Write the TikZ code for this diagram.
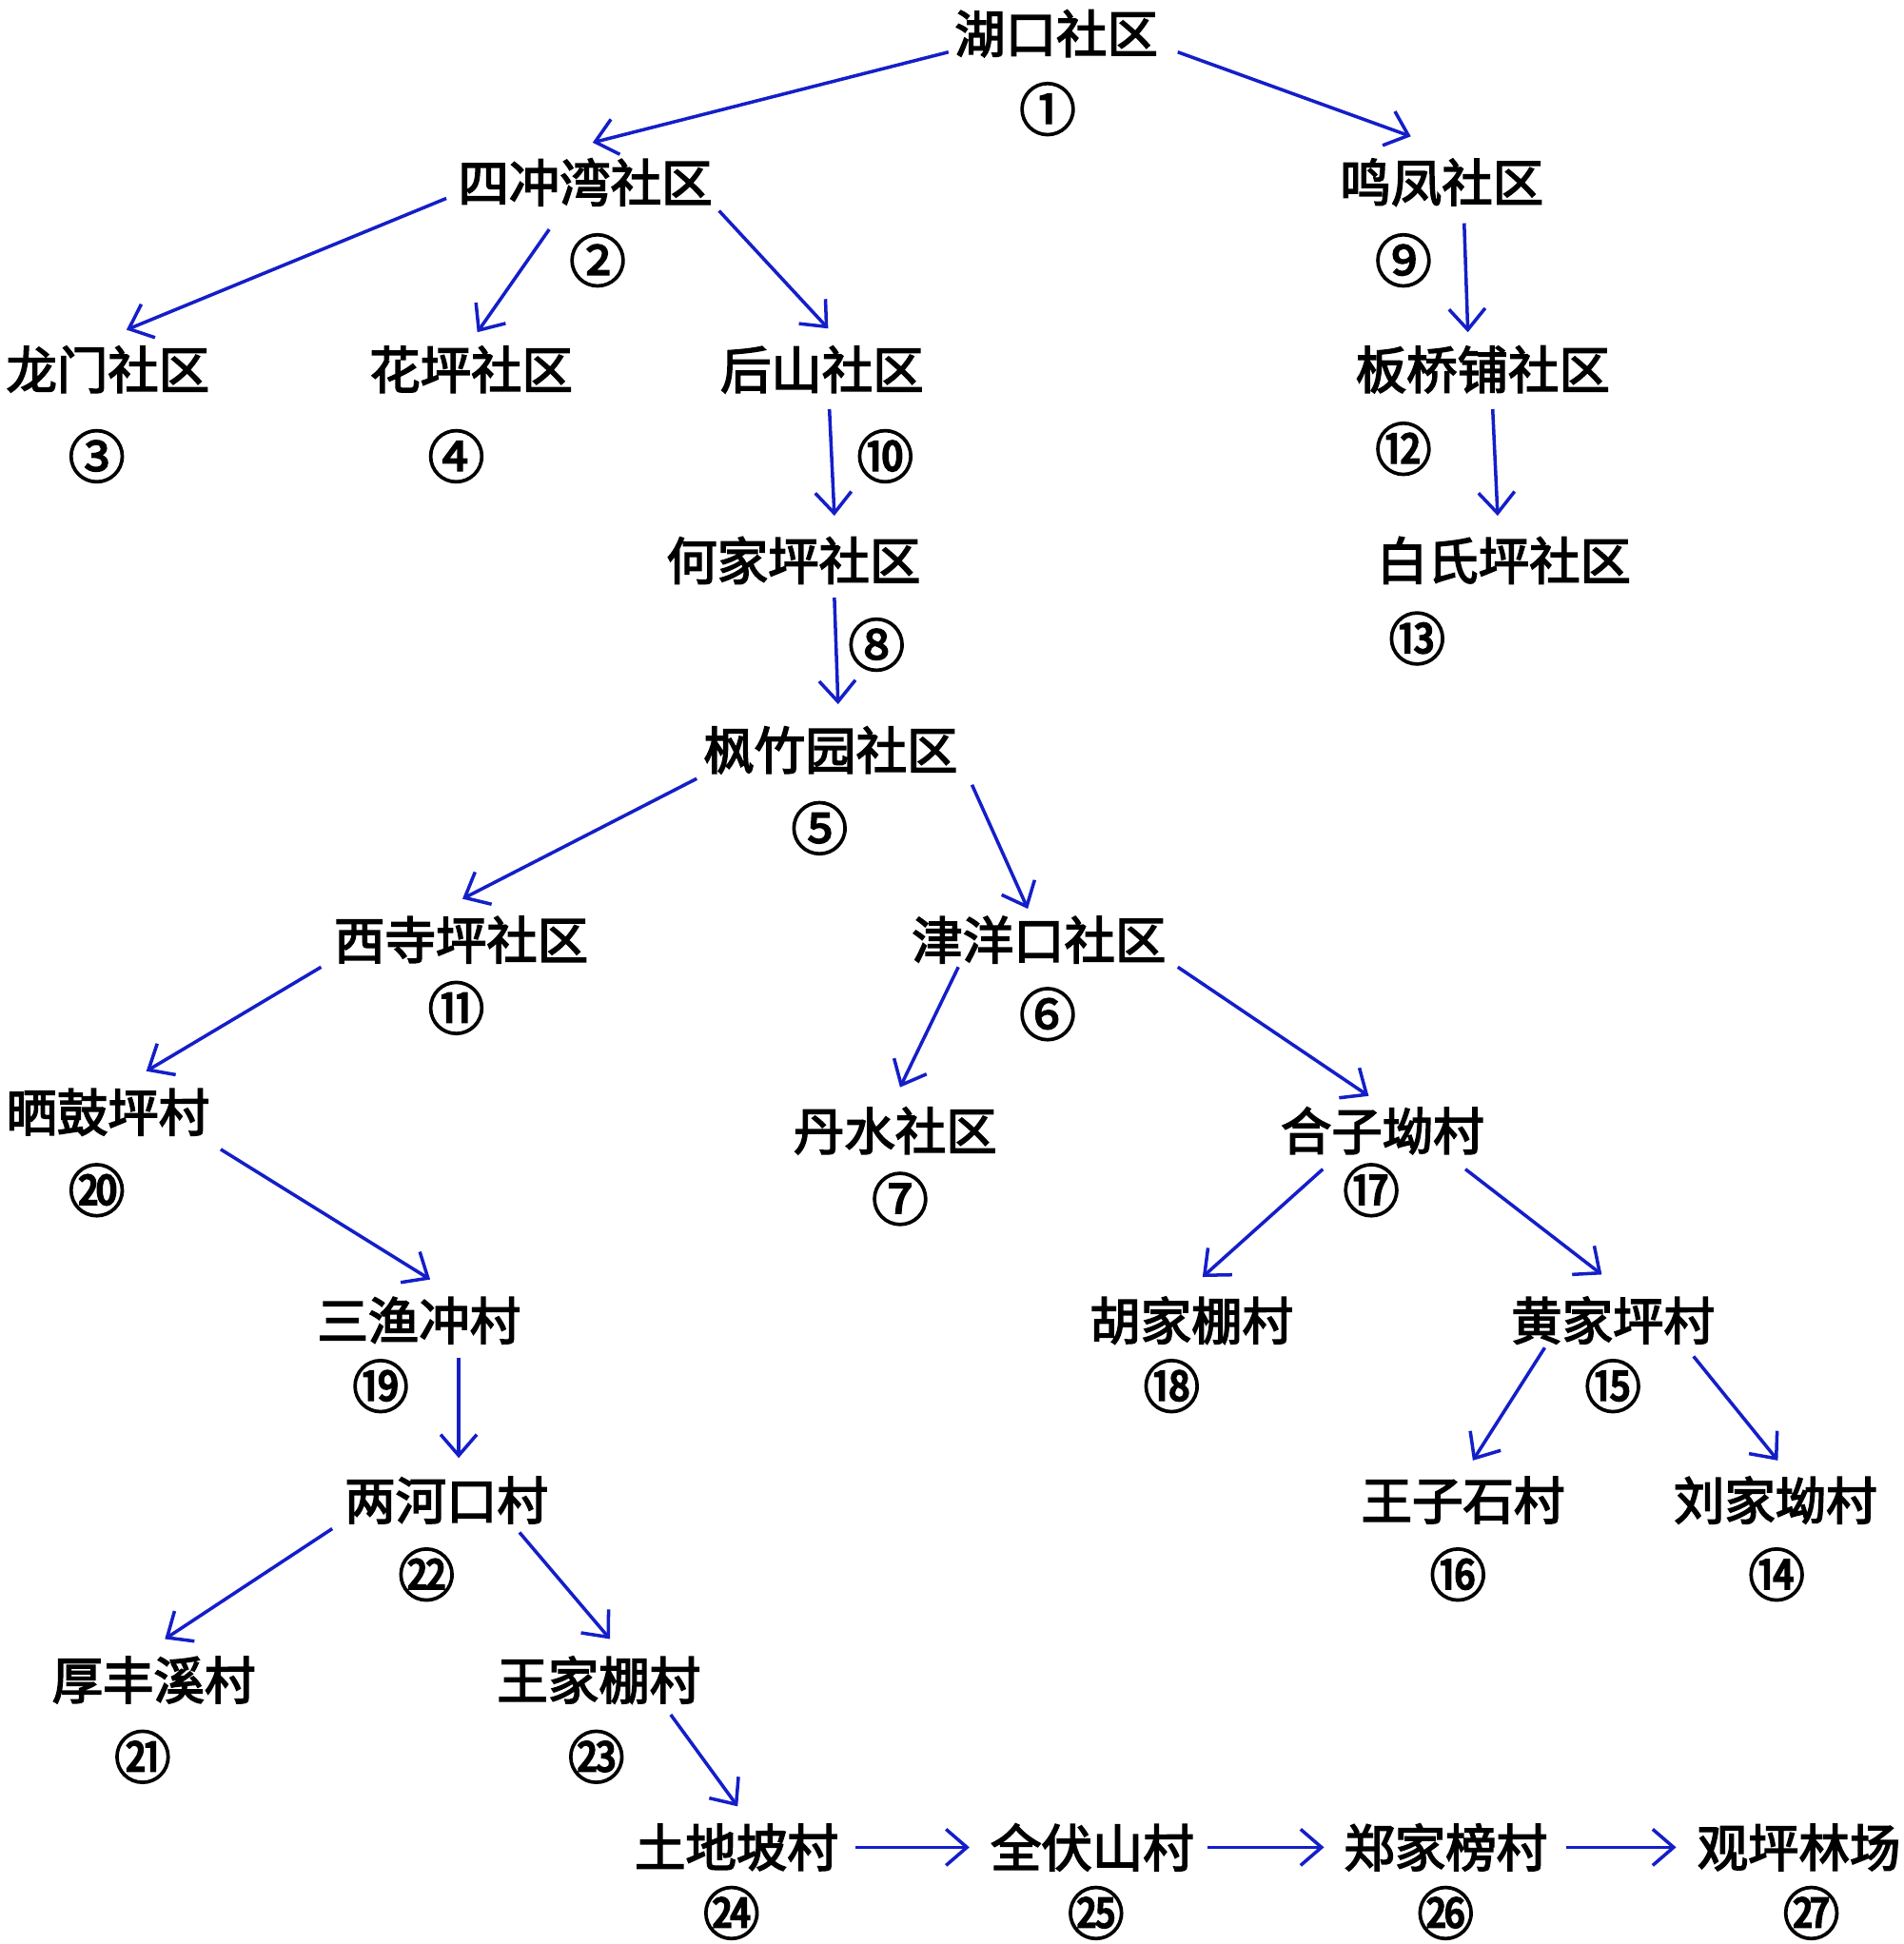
\documentclass[tikz,border=0pt]{standalone}
\usepackage{fontspec}
\newfontfamily\cjkm{Noto Sans CJK SC}[FakeBold=3]
\usetikzlibrary{arrows.meta,calc}
\definecolor{arrblue}{RGB}{20,30,200}
\begin{document}
\begin{tikzpicture}[x=0.013029cm,y=-0.013029cm,
  lbl/.style={font=\cjkm\fontsize{15.2}{18}\selectfont, inner sep=0pt},
  num/.style={font=\cjkm\fontsize{17}{18}\selectfont, inner sep=0pt},
  arr/.style={draw=arrblue, line width=1pt, -{Straight Barb[length=2.2mm,width=3.8mm]}}]
\useasboundingbox (0,0) rectangle (1535,1568);
% labels
\node[lbl] (n1)  at (852,27)   {湖口社区};
\node[lbl] (n2)  at (472,147)  {四冲湾社区};
\node[lbl] (n9)  at (1163,147) {鸣凤社区};
\node[lbl] (n3)  at (87,298)   {龙门社区};
\node[lbl] (n4)  at (380,298)  {花坪社区};
\node[lbl] (n10) at (663,298)  {后山社区};
\node[lbl] (n12) at (1196,298) {板桥铺社区};
\node[lbl] (n8)  at (640,452)  {何家坪社区};
\node[lbl] (n13) at (1213,452) {白氏坪社区};
\node[lbl] (n5)  at (670,605)  {枫竹园社区};
\node[lbl] (n11) at (372,758)  {西寺坪社区};
\node[lbl] (n6)  at (838,758)  {津洋口社区};
\node[lbl] (n20) at (87,897)   {晒鼓坪村};
\node[lbl] (n7)  at (722,912)  {丹水社区};
\node[lbl] (n17) at (1115,912) {合子坳村};
\node[lbl] (n19) at (338,1065) {三渔冲村};
\node[lbl] (n18) at (961,1065) {胡家棚村};
\node[lbl] (n15) at (1301,1065) {黄家坪村};
\node[lbl] (n22) at (360,1210) {两河口村};
\node[lbl] (n16) at (1180,1210) {王子石村};
\node[lbl] (n14) at (1432,1210) {刘家坳村};
\node[lbl] (n21) at (124,1355) {厚丰溪村};
\node[lbl] (n23) at (483,1355) {王家棚村};
\node[lbl] (n24) at (594,1490) {土地坡村};
\node[lbl] (n25) at (881,1490) {全伏山村};
\node[lbl] (n26) at (1166,1490) {郑家榜村};
\node[lbl] (n27) at (1451,1490) {观坪林场};
% numbers
\node[num] (c1)  at (845,88)   {①};
\node[num] (c2)  at (482,210)  {②};
\node[num] (c9)  at (1132,210) {⑨};
\node[num] (c3)  at (78,368)   {③};
\node[num] (c4)  at (368,368)  {④};
\node[num] (c10) at (714,368)  {⑩};
\node[num] (c12) at (1132,362) {⑫};
\node[num] (c8)  at (707,520)  {⑧};
\node[num] (c13) at (1143,515) {⑬};
\node[num] (c5)  at (661,668)  {⑤};
\node[num] (c11) at (368,813)  {⑪};
\node[num] (c6)  at (845,818)  {⑥};
\node[num] (c20) at (78,960)   {⑳};
\node[num] (c7)  at (726,967)  {⑦};
\node[num] (c17) at (1106,960) {⑰};
\node[num] (c19) at (307,1118) {⑲};
\node[num] (c18) at (945,1118) {⑱};
\node[num] (c15) at (1301,1118) {⑮};
\node[num] (c22) at (344,1270) {㉒};
\node[num] (c16) at (1176,1270) {⑯};
\node[num] (c14) at (1433,1270) {⑭};
\node[num] (c21) at (115,1417) {㉑};
\node[num] (c23) at (481,1417) {㉓};
\node[num] (c24) at (590,1543) {㉔};
\node[num] (c25) at (884,1543) {㉕};
\node[num] (c26) at (1166,1543) {㉖};
\node[num] (c27) at (1461,1543) {㉗};
% arrows
\draw[arr] ($(n1)+(-87,15)$)   -- ($(n2)+(6,-32)$);
\draw[arr] ($(n1)+(98,15)$)    -- ($(n9)+(-25,-37)$);
\draw[arr] ($(n2)+(-112,13)$)  -- ($(n3)+(15,-32)$);
\draw[arr] ($(n2)+(-29,38)$)   -- ($(n4)+(5,-30)$);
\draw[arr] ($(n2)+(108,23)$)   -- ($(n10)+(5,-33)$);
\draw[arr] ($(n9)+(18,33)$)    -- ($(n12)+(-12,-30)$);
\draw[arr] ($(n12)+(8,32)$)    -- ($(n13)+(-5,-36)$);
\draw[arr] ($(n10)+(6,32)$)    -- ($(n8)+(33,-36)$);
\draw[arr] ($(n8)+(33,30)$)    -- ($(n5)+(6,-37)$);
\draw[arr] ($(n5)+(-108,23)$)  -- ($(n11)+(1,-33)$);
\draw[arr] ($(n5)+(114,28)$)   -- ($(n6)+(-9,-25)$);
\draw[arr] ($(n11)+(-113,22)$) -- ($(n20)+(31,-33)$);
\draw[arr] ($(n6)+(-65,22)$)   -- ($(n7)+(4,-35)$);
\draw[arr] ($(n6)+(112,22)$)   -- ($(n17)+(-11,-28)$);
\draw[arr] ($(n20)+(91,30)$)   -- ($(n19)+(9,-33)$);
\draw[arr] ($(n17)+(-48,31)$)  -- ($(n18)+(9,-35)$);
\draw[arr] ($(n17)+(67,31)$)   -- ($(n15)+(-9,-37)$);
\draw[arr] ($(n19)+(32,30)$)   -- ($(n22)+(10,-34)$);
\draw[arr] ($(n15)+(-55,22)$)  -- ($(n16)+(8,-32)$);
\draw[arr] ($(n15)+(65,29)$)   -- ($(n14)+(2,-32)$);
\draw[arr] ($(n22)+(-92,23)$)  -- ($(n21)+(9,-33)$);
\draw[arr] ($(n22)+(59,26)$)   -- ($(n23)+(9,-33)$);
\draw[arr] ($(n23)+(58,28)$)   -- ($(n24)+(1,-33)$);
\draw[arr] ($(n24)+(96,0)$)    -- ($(n25)+(-99,0)$);
\draw[arr] ($(n25)+(93,0)$)    -- ($(n26)+(-98,0)$);
\draw[arr] ($(n26)+(97,0)$)    -- ($(n27)+(-99,0)$);
\end{tikzpicture}
\end{document}
